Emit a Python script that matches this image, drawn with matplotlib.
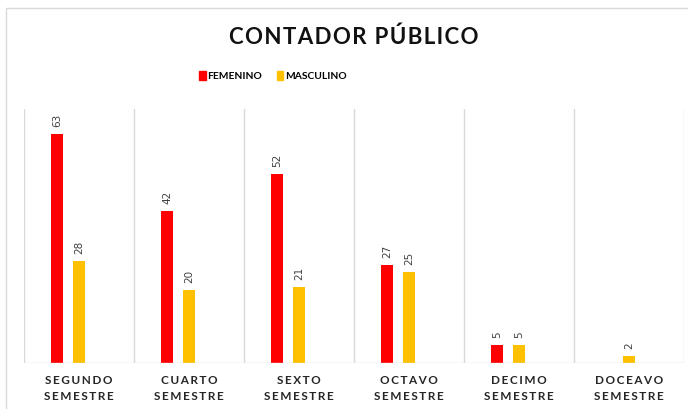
import numpy as np
import matplotlib.pyplot as plt
from matplotlib.patches import Rectangle, Patch

# datos
semestres = ['SEGUNDO\nSEMESTRE', 'CUARTO\nSEMESTRE', 'SEXTO\nSEMESTRE',
             'OCTAVO\nSEMESTRE', 'DECIMO\nSEMESTRE', 'DOCEAVO\nSEMESTRE']
femenino = [63, 42, 52, 27, 5, np.nan]
masculino = [28, 20, 21, 25, 5, 2]

RED = '#FF0000'
YELLOW = '#FFC000'
GRID = '#D9D9D9'
TS = '\u2009'  # thin space para espaciar letras


def spaced(s, sep=TS):
  return '\n'.join(sep.join(line) for line in s.split('\n'))


fig = plt.figure(figsize=(6.88, 4.09), dpi=100)
fig.patches.append(Rectangle((6 / 688, -0.1), 1.2, 1 - 8 / 409 + 0.1,
                             transform=fig.transFigure, fill=False,
                             edgecolor=GRID, linewidth=1))

ax = fig.add_axes([24 / 688, 1 - 363 / 409, 660 / 688, (363 - 109) / 409])
x = np.arange(len(semestres))
w = 0.11
ax.bar(x - 0.2, femenino, w, color=RED, zorder=3)
ax.bar(x, masculino, w, color=YELLOW, zorder=3)

for i in range(len(x)):
  for off, v in ((-0.2, femenino[i]), (0, masculino[i])):
    if np.isnan(v):
      continue
    ax.annotate('%d' % v, (x[i] + off, v), xytext=(0, 5), textcoords='offset points',
                rotation=90, ha='center', va='bottom', fontsize=7.5,
                color='#404040', family='DejaVu Sans')

ax.set_xlim(-0.5, len(x) - 0.5)
ax.set_ylim(0, 70)
for b in np.arange(-0.5, len(x), 1):
  ax.axvline(b, color=GRID, linewidth=1, zorder=1)
for s in ax.spines.values():
  s.set_visible(False)
ax.axhline(0, color=GRID, linewidth=1, zorder=4)
ax.set_yticks([])
ax.set_xticks(x)
ax.set_xticklabels([spaced(s) for s in semestres], fontsize=8.5,
                   fontweight='bold', family=['Lato', 'DejaVu Sans'],
                   color='#262626', linespacing=1.45)
ax.tick_params(axis='x', length=0, pad=9)

fig.text(354 / 688, 1 - 37 / 409, spaced('CONTADOR PÚBLICO', '\u200a'),
         ha='center', va='center', fontsize=16, fontweight='bold',
         family=['Lato', 'DejaVu Sans'], color='#111111')

handles = [Patch(color=RED, label='FEMENINO'), Patch(color=YELLOW, label='MASCULINO')]
fig.legend(handles=handles, loc='center', bbox_to_anchor=(273 / 688, 1 - 76 / 409),
           ncol=2, frameon=False, handlelength=0.65, handleheight=0.9,
           handletextpad=0.15, columnspacing=1.4,
           prop={'family': 'Lato', 'weight': 'bold', 'size': 7.4})

fig.savefig('out.png', dpi=100)
